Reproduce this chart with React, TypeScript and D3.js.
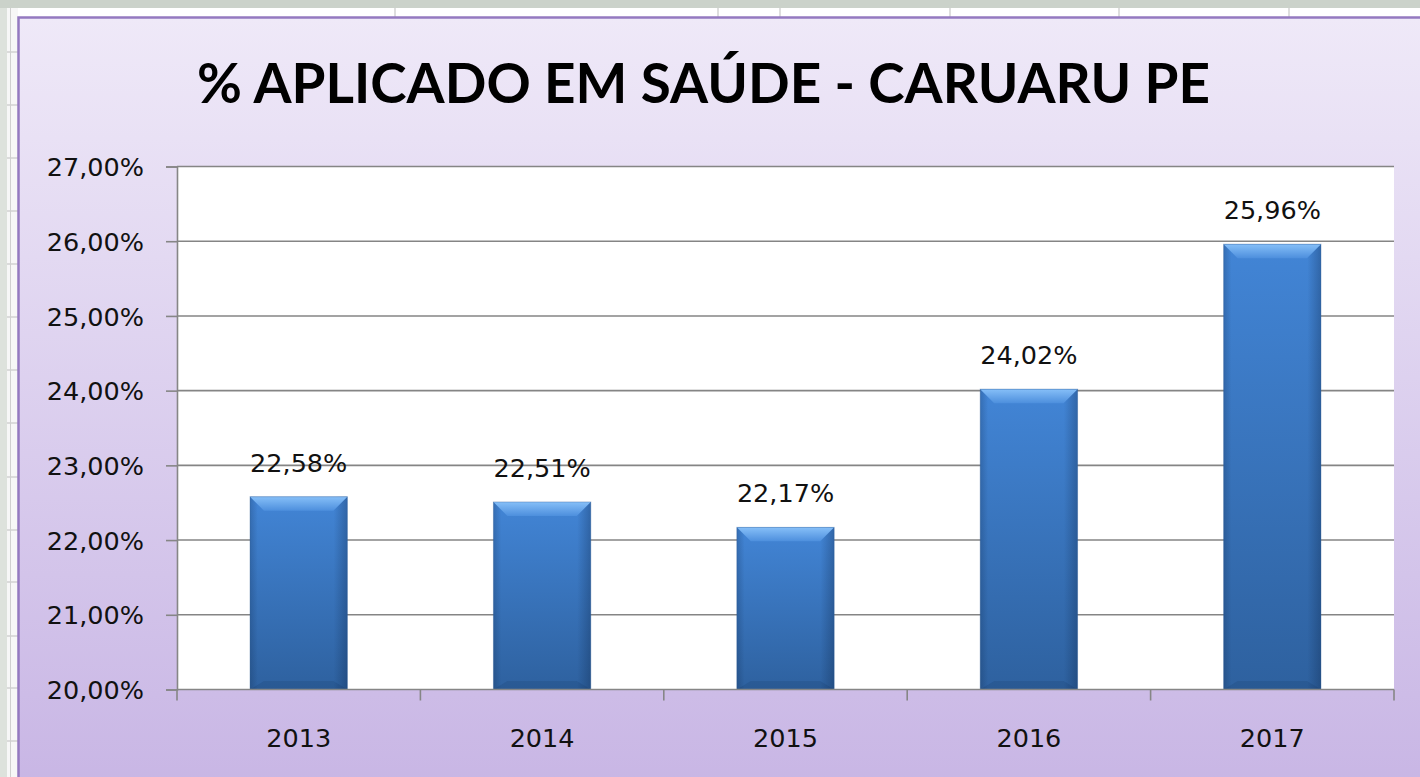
import { useEffect, useRef } from "react";
import * as d3 from "d3";

// chart values
const years = ["2013", "2014", "2015", "2016", "2017"];
const aplicado = [22.58, 22.51, 22.17, 24.02, 25.96];
const yTicks = [20, 21, 22, 23, 24, 25, 26, 27];
const title = "% APLICADO EM SAÚDE - CARUARU PE";

const W = 1420;
const H = 777;

const fmt = (v: number) => v.toFixed(2).replace(".", ",") + "%";

const App = () => {
  const svgRef = useRef<SVGSVGElement>(null);

  useEffect(() => {
    const svg = d3.select(svgRef.current);
    svg.selectAll("*").remove();

    const defs = svg.append("defs");

    const chartBg = defs.append("linearGradient").attr("id", "chartBg")
      .attr("x1", 0).attr("y1", 0).attr("x2", 0).attr("y2", 1);
    chartBg.append("stop").attr("offset", "0%").attr("stop-color", "#efe9f8");
    chartBg.append("stop").attr("offset", "100%").attr("stop-color", "#c7b4e4");

    const barV = defs.append("linearGradient").attr("id", "barV")
      .attr("x1", 0).attr("y1", 0).attr("x2", 0).attr("y2", 1);
    barV.append("stop").attr("offset", "0%").attr("stop-color", "#4285d6");
    barV.append("stop").attr("offset", "100%").attr("stop-color", "#2e619f");

    const barH = defs.append("linearGradient").attr("id", "barH")
      .attr("x1", 0).attr("y1", 0).attr("x2", 1).attr("y2", 0);
    barH.append("stop").attr("offset", "0%").attr("stop-color", "#0a2040").attr("stop-opacity", 0.22);
    barH.append("stop").attr("offset", "8%").attr("stop-color", "#0a2040").attr("stop-opacity", 0);
    barH.append("stop").attr("offset", "86%").attr("stop-color", "#0a2040").attr("stop-opacity", 0);
    barH.append("stop").attr("offset", "100%").attr("stop-color", "#0a2040").attr("stop-opacity", 0.3);

    const bevel = defs.append("linearGradient").attr("id", "bevelTop")
      .attr("x1", 0).attr("y1", 0).attr("x2", 0).attr("y2", 1);
    bevel.append("stop").attr("offset", "0%").attr("stop-color", "#86bff8");
    bevel.append("stop").attr("offset", "100%").attr("stop-color", "#4d8fdd");

    // spreadsheet behind the chart
    svg.append("rect").attr("width", W).attr("height", H).attr("fill", "#dde2dc");
    svg.append("rect").attr("x", 0).attr("y", 0).attr("width", W).attr("height", 8).attr("fill", "#cbd2ca");
    svg.append("rect").attr("x", 8).attr("y", 8).attr("width", W).attr("height", 10).attr("fill", "#ffffff");
    svg.append("rect").attr("x", 7).attr("y", 8).attr("width", 11).attr("height", H).attr("fill", "#f7f7f7");
    [395, 718, 780, 950, 1119, 1289].forEach(x => {
      svg.append("line").attr("x1", x).attr("x2", x).attr("y1", 8).attr("y2", 18)
        .attr("stroke", "#c8c8c8").attr("stroke-width", 1.2);
    });
    [52, 105, 158, 211, 264, 317, 370, 423, 477, 530, 582, 636, 688, 741].forEach(y => {
      svg.append("line").attr("x1", 7).attr("x2", 18).attr("y1", y).attr("y2", y)
        .attr("stroke", "#c8c8c8").attr("stroke-width", 1.2);
    });
    svg.append("line").attr("x1", 10.5).attr("x2", 10.5).attr("y1", 8).attr("y2", H)
      .attr("stroke", "#d0d0d0").attr("stroke-width", 1);

    // chart area
    svg.append("rect").attr("x", 18.5).attr("y", 17.5).attr("width", W + 20).attr("height", H + 20)
      .attr("fill", "url(#chartBg)").attr("stroke", "#9479c0").attr("stroke-width", 2.5);

    svg.append("text")
      .attr("x", 197).attr("y", 103)
      .attr("textLength", 1013).attr("lengthAdjust", "spacingAndGlyphs")
      .attr("font-family", "Lato, 'Open Sans', sans-serif")
      .attr("font-weight", 700).attr("font-size", 55).attr("fill", "#000")
      .text(title);

    const left = 177, right = 1394, top = 166.5, bottom = 689.5;

    svg.append("rect").attr("x", left).attr("y", top)
      .attr("width", right - left).attr("height", bottom - top).attr("fill", "#ffffff");

    const x = d3.scaleBand().domain(years).range([left, right]).paddingInner(0.6).paddingOuter(0.3);
    const y = d3.scaleLinear().domain([20, 27]).range([bottom, top]);

    const labelFont = "'DejaVu Sans', Verdana, sans-serif";

    // gridlines
    svg.append("g").selectAll("line").data(yTicks.filter(t => t !== 20)).join("line")
      .attr("x1", left).attr("x2", right)
      .attr("y1", d => y(d)).attr("y2", d => y(d))
      .attr("stroke", "#858585").attr("stroke-width", 1.6);

    // y axis
    const yAxis = d3.axisLeft(y).tickValues(yTicks).tickSize(11).tickPadding(22).tickFormat(d => fmt(+d));
    const gy = svg.append("g").attr("transform", `translate(${left},0)`).call(yAxis);
    gy.select(".domain").attr("stroke", "#868686").attr("stroke-width", 1.6);
    gy.selectAll(".tick line").attr("stroke", "#868686").attr("stroke-width", 1.6);
    gy.selectAll(".tick text").attr("font-family", labelFont).attr("font-size", 25.5)
      .attr("fill", "#111").attr("dy", "0.36em");

    // bars
    const bw = x.bandwidth();
    const bars = svg.append("g").selectAll("g").data(years).join("g");
    const bx = (d: string) => x(d)!;
    const by = (i: number) => y(aplicado[i]);
    bars.append("rect")
      .attr("x", d => bx(d)).attr("y", (d, i) => by(i))
      .attr("width", bw).attr("height", (d, i) => bottom - by(i))
      .attr("fill", "url(#barV)");
    bars.append("rect")
      .attr("x", d => bx(d)).attr("y", (d, i) => by(i))
      .attr("width", bw).attr("height", (d, i) => bottom - by(i))
      .attr("fill", "url(#barH)");
    const b = 14;
    bars.append("polygon")
      .attr("points", (d, i) => {
        const x0 = bx(d), y0 = by(i);
        return `${x0},${y0} ${x0 + bw},${y0} ${x0 + bw - b},${y0 + b} ${x0 + b},${y0 + b}`;
      })
      .attr("fill", "url(#bevelTop)");
    bars.append("polygon")
      .attr("points", (d) => {
        const x0 = bx(d);
        return `${x0},${bottom} ${x0 + bw},${bottom} ${x0 + bw - b},${bottom - b * 0.6} ${x0 + b},${bottom - b * 0.6}`;
      })
      .attr("fill", "#0a2040").attr("fill-opacity", 0.12);
    bars.append("rect")
      .attr("x", d => bx(d)).attr("y", (d, i) => by(i))
      .attr("width", bw).attr("height", (d, i) => bottom - by(i))
      .attr("fill", "none").attr("stroke", "#2b5a92").attr("stroke-opacity", 0.35).attr("stroke-width", 1);

    // data labels
    svg.append("g").selectAll("text").data(aplicado).join("text")
      .attr("x", (d, i) => bx(years[i]) + bw / 2)
      .attr("y", d => y(d) - 25)
      .attr("text-anchor", "middle")
      .attr("font-family", labelFont).attr("font-size", 25.5).attr("fill", "#111")
      .text(d => fmt(d));

    // x axis
    svg.append("line").attr("x1", left).attr("x2", right).attr("y1", bottom).attr("y2", bottom)
      .attr("stroke", "#868686").attr("stroke-width", 1.6);
    const step = x.step();
    const bounds = years.map(d => bx(d) + bw / 2 - step / 2).concat([bx(years[years.length - 1]) + bw / 2 + step / 2]);
    svg.append("g").selectAll("line").data(bounds).join("line")
      .attr("x1", d => d).attr("x2", d => d).attr("y1", bottom).attr("y2", bottom + 11)
      .attr("stroke", "#868686").attr("stroke-width", 1.6);
    svg.append("g").selectAll("text").data(years).join("text")
      .attr("x", d => bx(d) + bw / 2).attr("y", 747)
      .attr("text-anchor", "middle")
      .attr("font-family", labelFont).attr("font-size", 25.5).attr("fill", "#111")
      .text(d => d);
  }, []);

  return (
    <svg ref={svgRef} width={W} height={H}
      style={{ position: "absolute", left: 0, top: 0, display: "block" }} />
  );
};

export default App;
